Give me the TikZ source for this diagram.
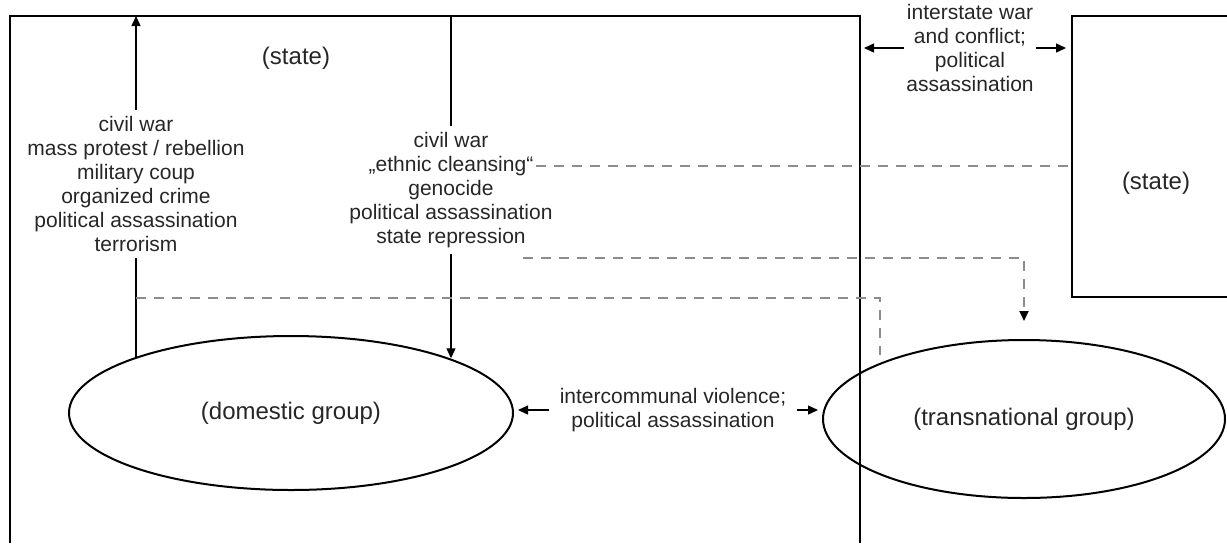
\documentclass[tikz,border=0pt]{standalone}
\usepackage{fontspec}
\setmainfont{Liberation Sans}
\usetikzlibrary{arrows.meta,shapes.geometric}
\definecolor{dashgray}{gray}{0.55}

\begin{document}
\begin{tikzpicture}[x=0.5pt,y=-0.5pt,
  lbl/.style={font=\fontsize{10.5}{12}\selectfont, align=center, inner sep=3pt, text=black!85},
  actor/.style={font=\fontsize{12}{14}\selectfont, text=black!85},
  grp/.style={ellipse, draw, line width=1pt, minimum width=222pt, minimum height=77pt, actor},
  link/.style={line width=0.7pt, -{Triangle[length=5pt,width=4.5pt]}},
  dlink/.style={line width=0.9pt, dash pattern=on 5pt off 4pt, draw=dashgray}]
\useasboundingbox (0,0) rectangle (1227,543);
\draw[line width=0.8pt] (10,543) -- (10,16) -- (860,16) -- (860,543);
\draw[line width=1.2pt] (1235,16) -- (1072,16) -- (1072,297) -- (1235,297);
\coordinate (lefttop) at (136,16);
\coordinate (midtop) at (451,16);
\coordinate (bigright) at (860,48);
\coordinate (smallleft) at (1072,48);
\node[actor] (state1) at (296,58) {(state)};
\node[actor] (state2) at (1156,183) {(state)};
\node[grp] (domestic) at (291,413) {(domestic group)};
\node[grp, minimum width=201pt, minimum height=79pt] (transnat) at (1024,419) {(transnational group)};
\node[lbl, inner sep=1pt] (interstate) at (970,48) {interstate war\\and conflict;\\political\\assassination};
\node[lbl] (internal) at (136,184) {civil war\\mass protest / rebellion\\military coup\\organized crime\\political assassination\\terrorism};
\node[lbl] (repress) at (451,190) {civil war\\„ethnic cleansing“\\genocide\\political assassination\\state repression};
\node[lbl, inner sep=5pt] (intercomm) at (673,410) {intercommunal violence;\\political assassination};
\draw[link] (internal.north) -- (internal.north |- lefttop);
\draw[line width=0.7pt] (internal.south) -- (internal.south |- domestic.161);
\draw[line width=0.6pt] (repress.north |- midtop) -- (repress.north);
\draw[link, line width=0.6pt] (repress.south) -- (repress.south |- domestic.19);
\draw[link, shorten >=2pt] (interstate.west) -- (interstate.west -| bigright);
\draw[link, shorten >=3pt] (interstate.east) -- (interstate.east -| smallleft);
\draw[link, shorten >=2pt] (intercomm.west) -- (intercomm.west -| domestic.east);
\draw[link, shorten >=2pt] (intercomm.east) -- (intercomm.east -| transnat.west);
\coordinate (ethnic) at (536,166);
\coordinate (repr) at (523,258);
\coordinate (lowdash) at (136,298);
\coordinate (lowcorner) at (880,298);
\draw[dlink] (ethnic) -- (ethnic -| smallleft);
\draw[dlink, -{Triangle[length=5pt,width=4.5pt,color=black]}] (repr) -- (repr -| transnat.north) -- ([yshift=9pt]transnat.north);
\draw[dlink, shorten >=4pt] (lowdash) -- (lowcorner) -- (lowcorner |- transnat.159);
\end{tikzpicture}
\end{document}
